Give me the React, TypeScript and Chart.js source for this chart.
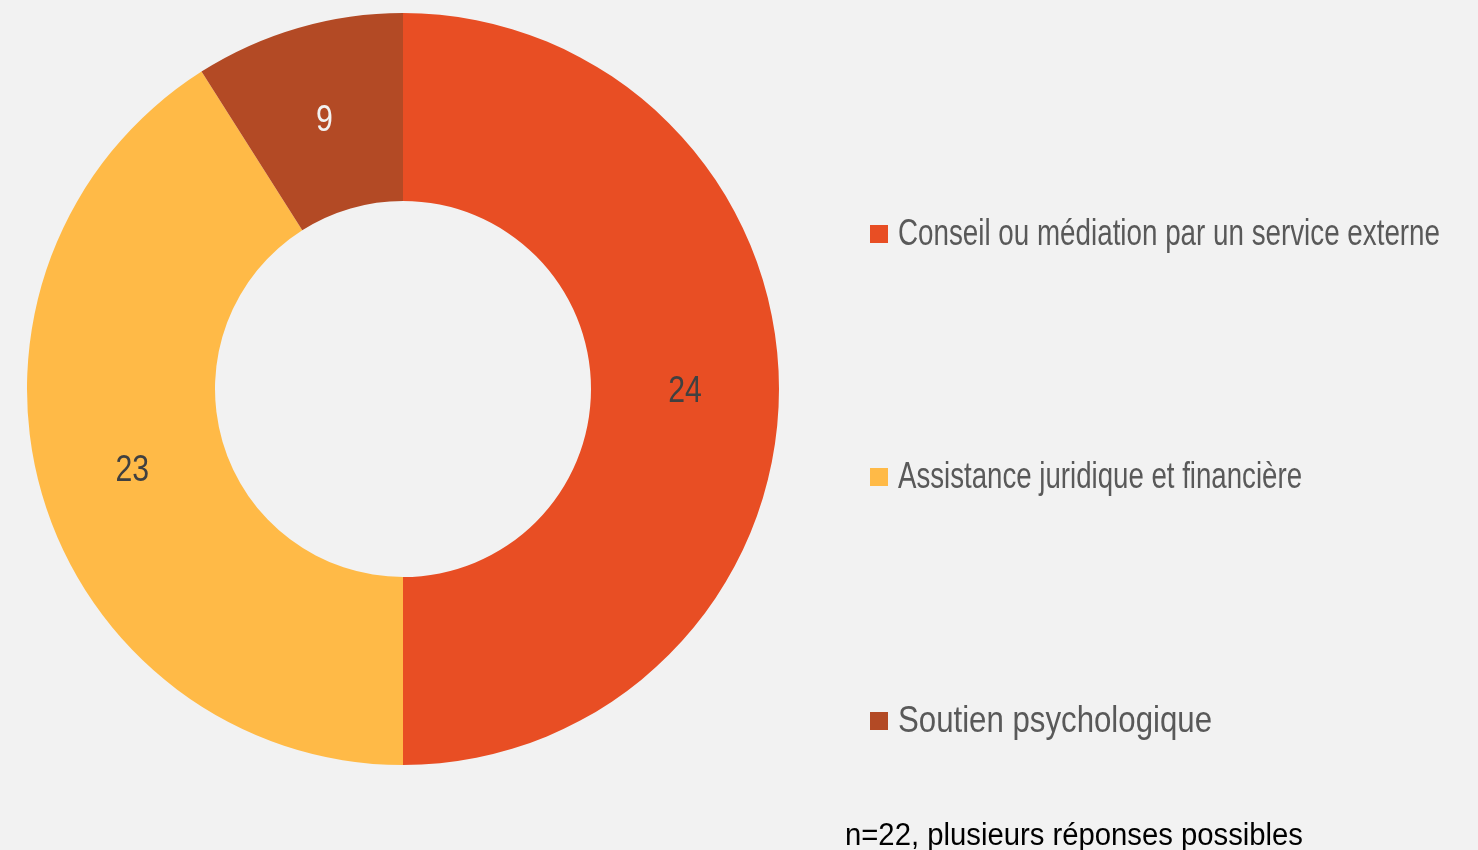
import React, { useEffect, useRef } from "react";
import { Chart, registerables } from "chart.js";

Chart.register(...registerables);

const categories = [
  "Conseil ou médiation par un service externe",
  "Assistance juridique et financière",
  "Soutien psychologique",
];
// displayed counts
const counts = [24, 23, 9];
// share of the ring (percent)
const ringShares = [50, 41, 9];
const colors = ["#E84E24", "#FFBA47", "#B34A25"];
const labelColors = ["#404040", "#404040", "#F2F2F2"];
const footnote = "n=22, plusieurs réponses possibles";

const FONT = '"Liberation Sans Narrow", "Arial Narrow", "Liberation Sans", sans-serif';
const legendTextWidths = [542, 404, 314];

function drawScaled(ctx: any, text: string, x: number, y: number, sx: number, align: string) {
  ctx.save();
  ctx.translate(x, y);
  ctx.scale(sx, 1);
  ctx.textAlign = align;
  ctx.fillText(text, 0, 0);
  ctx.restore();
}

const overlayPlugin = {
  id: "overlay",
  afterDatasetsDraw(chart: any) {
    const ctx = chart.ctx;
    const meta = chart.getDatasetMeta(0);
    ctx.save();
    ctx.font = `36px ${FONT}`;
    ctx.textBaseline = "middle";
    meta.data.forEach((arc: any, i: number) => {
      const p = arc.tooltipPosition();
      ctx.fillStyle = labelColors[i];
      drawScaled(ctx, String(counts[i]), p.x, p.y + 3, 0.84, "center");
    });
    ctx.restore();
  },
  afterDraw(chart: any) {
    const ctx = chart.ctx;
    ctx.save();
    const legendX = 870;
    const ys = [234, 477, 721];
    categories.forEach((c, i) => {
      ctx.fillStyle = colors[i];
      ctx.fillRect(legendX, ys[i] - 9, 18, 18);
      ctx.fillStyle = "#595959";
      ctx.font = `36px ${FONT}`;
      ctx.textBaseline = "middle";
      const sc = legendTextWidths[i] / ctx.measureText(c).width;
      drawScaled(ctx, c, legendX + 28, ys[i] + 1, sc, "left");
    });
    ctx.fillStyle = "#000000";
    ctx.font = `31px ${FONT}`;
    ctx.textBaseline = "alphabetic";
    const footScale = 458 / ctx.measureText(footnote).width;
    drawScaled(ctx, footnote, 845, 845, footScale, "left");
    ctx.restore();
  },
};

export default function App() {
  const ref = useRef<HTMLCanvasElement>(null);
  useEffect(() => {
    const chart = new Chart(ref.current!, {
      type: "doughnut",
      data: {
        labels: categories,
        datasets: [
          {
            data: ringShares,
            backgroundColor: colors,
            borderWidth: 0,
          },
        ],
      },
      options: {
        animation: false,
        responsive: false,
        maintainAspectRatio: false,
        cutout: "50%",
        layout: { padding: { left: 27, top: 13, right: 699, bottom: 85 } },
        plugins: {
          legend: { display: false },
          tooltip: { enabled: false },
        },
      },
      plugins: [overlayPlugin],
    });
    return () => chart.destroy();
  }, []);
  return (
    <div
      style={{
        position: "fixed",
        left: 0,
        top: 0,
        width: 1478,
        height: 850,
        background: "#F2F2F2",
      }}
    >
      <canvas ref={ref} width={1478} height={850} style={{ width: 1478, height: 850 }} />
    </div>
  );
}
